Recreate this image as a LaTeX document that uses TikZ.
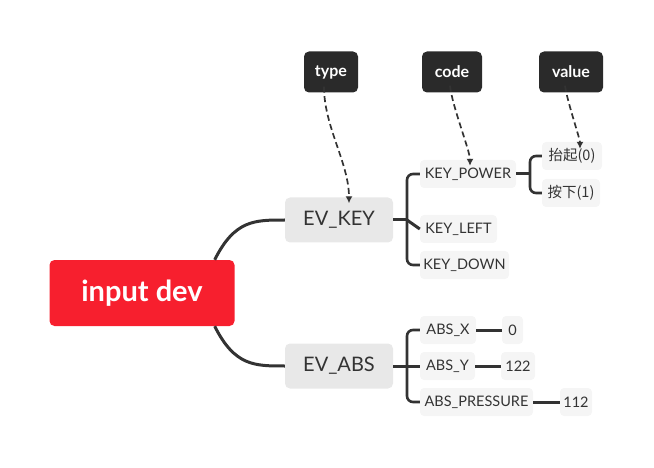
\documentclass[tikz,border=0pt]{standalone}
\usepackage{fontspec}
\setmainfont{Lato}
\newfontfamily\cjk{Noto Sans CJK SC}
\usetikzlibrary{arrows.meta}
\definecolor{redbox}{HTML}{F71F2E}
\definecolor{darkbox}{HTML}{2A2A2A}
\definecolor{greybox}{HTML}{E8E8E8}
\definecolor{lightbox}{HTML}{F5F5F5}
\definecolor{linecol}{HTML}{333333}
\definecolor{txt}{HTML}{333333}
\tikzset{
  rootbox/.style={fill=redbox, rounded corners=5pt, minimum width=185pt, minimum height=66pt, text=white, font=\fontsize{29}{31}\selectfont\bfseries, inner sep=0pt},
  mainbox/.style={fill=greybox, rounded corners=5pt, minimum width=108pt, minimum height=45pt, text=txt, font=\fontsize{20}{22}\selectfont, inner sep=0pt},
  tagbox/.style={fill=darkbox, rounded corners=5pt, minimum height=41pt, text=white, font=\fontsize{16}{18}\selectfont\bfseries, inner sep=0pt},
  leafbox/.style={fill=lightbox, rounded corners=4pt, minimum height=28pt, text=txt, font=\fontsize{14.5}{16}\selectfont, inner sep=0pt},
  cjkleaf/.style={leafbox, font=\cjk\fontsize{14.5}{16}\selectfont},
  branch/.style={draw=linecol, line width=3pt},
  bracket/.style={draw=linecol, line width=2.6pt, rounded corners=6pt},
  dasharrow/.style={draw=linecol, line width=1.7pt, dash pattern=on 6pt off 3.5pt, -{Latex[length=7pt,width=7pt]}},
}
\begin{document}
\begin{tikzpicture}[x=1pt,y=-1pt]
\useasboundingbox (0,0) rectangle (654,468);
% nodes
\node[rootbox] (root) at (142,293) {input dev};
\node[mainbox] (evkey) at (339,220) {EV\_KEY};
\node[mainbox] (evabs) at (339,366) {EV\_ABS};
\node[tagbox, minimum width=54pt] (type) at (331,72) {type};
\node[tagbox, minimum width=60pt] (code) at (452,72) {code};
\node[tagbox, minimum width=64pt] (value) at (571,72) {value};
\node[leafbox, minimum width=96pt] (kpower) at (468,174) {KEY\_POWER};
\node[leafbox, minimum width=77pt] (kleft) at (458.5,229) {KEY\_LEFT};
\node[leafbox, minimum width=89pt] (kdown) at (464.5,265) {KEY\_DOWN};
\node[cjkleaf, minimum width=60pt] (up) at (572,156) {抬起(0)};
\node[cjkleaf, minimum width=58pt] (down) at (571,193) {按下(1)};
\node[leafbox, minimum width=56pt] (absx) at (448,330) {ABS\_X};
\node[leafbox, minimum width=55pt] (absy) at (447.5,366) {ABS\_Y};
\node[leafbox, minimum width=113pt] (absp) at (476.5,402) {ABS\_PRESSURE};
\node[leafbox, minimum width=21pt] (vx) at (512.5,330) {0};
\node[leafbox, minimum width=34pt] (vy) at (518,366) {122};
\node[leafbox, minimum width=32pt] (vp) at (576,402) {112};
% root branches
\draw[branch] ([xshift=-20pt]root.north east) .. controls +(20,-40) and +(-30,0) .. (evkey.west);
\draw[branch] ([xshift=-20pt]root.south east) .. controls +(20,40) and +(-30,0) .. (evabs.west);
% EV_KEY bracket
\coordinate (kj) at (407,220);
\draw[branch] (evkey.east) -- (kj);
\draw[bracket] (kpower.west) -| (kj) |- (kdown.west);
\draw[branch] (kj) -- (kleft.west);
% EV_ABS bracket
\coordinate (aj) at (407,366);
\draw[branch] (evabs.east) -- (aj);
\draw[bracket] (absx.west) -| (aj) |- (absp.west);
\draw[branch] (aj) -- (absy.west);
% KEY_POWER bracket
\coordinate (pj) at (530,174);
\draw[branch] (kpower.east) -- (pj);
\draw[bracket] (up.west) -| (pj) |- (down.west);
% values
\draw[branch] (absx.east) -- (vx.west);
\draw[branch] (absy.east) -- (vy.west);
\draw[branch] (absp.east) -- (vp.west);
% dashed arrows
\draw[dasharrow] ([xshift=-7pt,yshift=6pt]type.south) .. controls +(0,40) and +(0,-40) .. ([xshift=10pt,yshift=-6pt]evkey.north);
\draw[dasharrow] ([xshift=-2pt,yshift=7pt]code.south) .. controls +(2,20) and +(0,-15) .. ([xshift=2pt,yshift=-6pt]kpower.north);
\draw[dasharrow] ([xshift=-6pt,yshift=7pt]value.south) .. controls +(2,15) and +(0,-10) .. ([xshift=8pt,yshift=-7pt]up.north);
\end{tikzpicture}
\end{document}
